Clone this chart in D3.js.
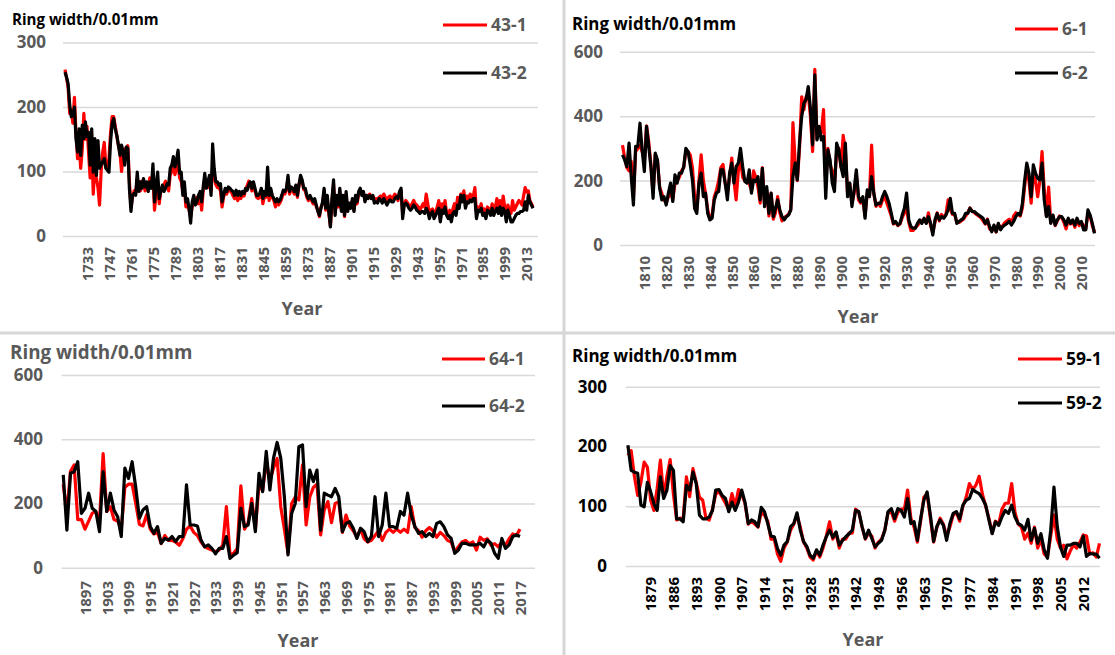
<!DOCTYPE html>
<html>
<head>
<meta charset="utf-8">
<script src="https://cdn.jsdelivr.net/npm/d3@7"></script>
<style>
  body { margin: 0; background: #fff; }
  svg { display: block; font-family: "Open Sans", Lato, sans-serif; }
</style>
</head>
<body>
<svg id="chart" width="1115" height="655"></svg>
<script>
// ---- data: ring width (0.01mm), one value per year ----
// sample 43, 1719-2017
const start43 = 1719;
const ring43_1 = [
  258,245,230,190,195,175,215,160,120,140,
  105,135,190,150,170,130,90,140,65,110,
  90,75,48,100,130,145,110,105,120,160,
  185,185,170,155,140,130,100,125,135,130,
  140,85,45,60,70,65,90,75,70,85,
  80,70,80,75,90,80,95,40,65,85,
  50,70,75,80,85,80,70,95,100,110,
  95,105,110,90,85,70,75,45,50,40,
  30,45,55,50,60,50,65,40,70,90,
  80,75,90,70,100,95,80,75,75,70,
  45,60,70,65,72,70,68,62,58,65,
  55,60,58,65,62,72,78,85,80,70,
  75,70,60,58,60,70,50,62,60,85,
  55,70,60,55,45,55,48,52,58,68,
  65,72,88,65,75,70,65,75,60,80,
  90,85,72,70,60,55,58,55,50,55,
  45,40,30,45,50,70,40,55,35,15,
  55,80,35,58,45,70,40,58,30,65,
  40,50,45,55,40,60,50,65,72,65,
  68,55,60,62,65,60,62,55,58,55,
  60,62,58,65,60,55,60,62,58,60,
  65,62,55,65,70,35,50,55,52,48,
  45,50,55,50,48,45,40,45,50,45,
  65,50,35,40,42,30,38,45,55,25,
  50,42,55,35,30,40,28,42,50,40,
  60,50,65,60,70,50,62,58,65,60,
  62,75,35,45,42,50,38,42,30,45,
  42,38,50,35,45,58,40,55,35,62,
  45,30,48,40,35,55,40,45,50,55,
  52,48,62,75,68,70,55,50,45
];
const ring43_2 = [
  254,246,236,203,185,187,200,151,130,166,
  125,172,151,177,154,161,110,166,99,151,
  94,148,105,110,115,120,105,102,99,146,
  174,182,166,156,141,125,141,130,110,138,
  136,74,38,63,66,63,99,69,84,74,
  89,76,84,69,84,74,112,53,79,99,
  58,69,79,69,74,81,79,105,110,123,
  107,118,133,97,99,63,84,53,58,43,
  20,53,63,48,53,63,69,53,76,97,
  74,84,94,63,143,105,84,84,79,81,
  53,63,74,69,76,74,71,69,63,71,
  63,69,63,69,66,74,71,79,84,74,
  84,74,63,63,66,74,58,69,63,107,
  63,74,63,58,53,58,53,56,63,71,
  69,74,94,69,76,74,69,79,63,79,
  94,87,74,74,63,58,63,58,53,58,
  48,38,32,43,53,74,43,63,38,14,
  58,87,32,63,48,74,38,63,32,69,
  38,51,43,58,38,63,53,69,74,63,
  69,53,63,58,63,58,63,51,53,51,
  58,56,51,58,53,48,53,56,53,53,
  58,61,58,69,74,27,48,51,48,43,
  40,43,48,45,40,38,35,38,38,35,
  43,38,27,35,38,27,32,38,43,22,
  40,35,45,32,27,32,22,35,38,32,
  48,43,63,53,63,43,53,51,56,53,
  58,58,27,40,38,43,32,35,27,40,
  38,32,43,32,38,43,35,45,32,43,
  38,22,40,32,22,22,27,32,35,35,
  38,38,40,53,40,63,53,48,43
];
const ticks43 = [1733,1747,1761,1775,1789,1803,1817,1831,1845,1859,1873,1887,1901,1915,1929,1943,1957,1971,1985,1999,2013];

// sample 6, 1800-2016
const start6 = 1800;
const ring6_1 = [
  310,270,240,230,260,150,290,300,310,290,
  260,370,320,250,160,280,260,180,160,140,
  130,150,170,140,190,200,210,230,240,290,
  290,280,240,150,110,200,280,200,160,110,
  80,90,150,170,200,240,250,190,160,210,
  270,200,140,230,270,210,200,200,190,170,
  230,210,180,130,240,130,170,90,160,80,
  100,150,100,75,85,90,95,110,380,260,
  200,300,460,420,460,470,400,290,545,330,
  360,350,420,180,300,250,230,190,290,300,
  240,340,290,160,190,130,160,220,140,130,
  140,90,160,150,310,160,120,130,120,140,
  150,130,110,90,65,70,60,65,85,100,
  110,70,45,45,55,60,70,75,80,70,
  100,60,40,70,100,75,95,85,95,140,
  110,95,95,70,70,75,80,90,100,115,
  105,100,95,90,85,75,65,80,50,45,
  55,40,65,50,60,70,75,80,65,90,
  100,95,90,115,180,240,200,130,220,200,
  150,200,290,170,90,180,70,90,60,75,
  90,85,70,50,80,65,75,55,80,60,
  70,60,50,100,90,60,40
];
const ring6_2 = [
  280,264,243,316,212,124,306,306,378,295,
  228,368,306,243,145,285,264,176,140,150,
  124,161,192,135,218,192,223,223,243,300,
  290,249,202,114,98,192,223,150,161,98,
  78,83,140,161,166,233,233,192,140,223,
  254,192,243,254,300,243,197,192,233,161,
  202,197,212,140,238,119,181,98,161,88,
  114,140,109,88,78,88,93,109,212,254,
  202,316,399,440,451,492,425,311,528,326,
  368,326,337,145,295,264,192,166,316,295,
  243,212,316,150,192,119,171,233,150,135,
  150,83,171,150,212,161,124,129,129,150,
  166,150,129,98,67,73,62,67,93,114,
  161,78,57,52,52,67,78,67,83,67,
  88,67,31,78,98,78,88,83,93,109,
  145,98,98,67,73,78,83,98,98,114,
  104,104,98,93,88,83,67,78,57,41,
  62,41,67,47,57,62,67,73,62,73,
  88,98,93,129,197,254,223,150,249,223,
  207,202,254,140,88,119,67,93,62,78,
  88,88,78,62,83,67,78,62,83,67,
  73,47,47,109,93,67,36
];
const ticks6 = [1810,1820,1830,1840,1850,1860,1870,1880,1890,1900,1910,1920,1930,1940,1950,1960,1970,1980,1990,2000,2010];

// sample 64, 1891-2017
const start64 = 1891;
const ring64_1 = [
  260,170,300,320,150,150,120,145,170,175,
  145,355,175,190,150,145,120,250,260,260,
  200,135,130,165,120,105,110,75,100,85,
  85,80,70,90,120,130,110,100,80,65,
  60,55,50,55,70,190,40,45,60,255,
  120,140,215,120,260,240,330,270,310,340,
  190,120,45,200,220,211,320,133,220,250,
  260,102,180,206,140,200,205,110,164,130,
  115,95,120,90,80,85,100,115,85,110,
  120,110,120,110,120,110,190,125,115,95,
  115,125,115,95,110,100,85,80,50,65,
  80,85,75,80,55,95,85,90,70,75,
  65,80,70,90,105,100,120
];
const ring64_2 = [
  289,117,294,299,330,169,185,232,185,175,
  112,299,175,232,180,159,97,310,278,330,
  250,154,180,190,128,107,128,76,91,86,
  97,81,97,97,258,133,133,130,86,65,
  71,60,43,60,60,97,29,39,47,185,
  128,133,200,112,294,237,362,242,341,390,
  341,221,40,169,200,377,382,190,304,268,
  304,117,232,226,221,247,221,112,138,143,
  123,91,123,112,81,97,221,97,133,232,
  128,128,123,175,164,232,164,128,107,112,
  97,107,97,138,143,128,102,91,45,55,
  76,76,71,71,71,76,65,86,76,45,
  29,91,60,71,97,102,97
];
const ticks64 = [1897,1903,1909,1915,1921,1927,1933,1939,1945,1951,1957,1963,1969,1975,1981,1987,1993,1999,2005,2011,2017];

// sample 59, 1872-2017
const start59 = 1872;
const ring59_1 = [
  185,193,150,118,140,174,165,110,93,130,
  177,116,150,178,120,77,80,79,149,116,
  163,140,115,110,80,77,95,120,125,115,
  105,95,121,100,128,120,105,70,75,70,
  65,90,85,75,45,45,20,8,30,40,
  60,70,85,65,40,30,15,10,25,15,
  30,50,74,45,55,30,45,45,55,55,
  95,90,65,45,55,50,30,40,45,60,
  90,90,75,90,95,95,127,80,65,40,
  75,115,120,80,40,65,80,70,50,65,
  85,90,75,100,115,138,128,135,150,120,
  100,80,55,75,70,95,105,105,138,90,
  70,65,45,55,38,65,30,45,20,15,
  50,85,45,30,35,12,25,35,30,40,
  52,50,20,22,15,38
];
const ring59_2 = [
  202,160,157,155,102,99,140,124,104,93,
  149,113,127,168,160,79,79,74,135,127,
  157,138,85,79,79,82,93,127,128,118,
  113,91,107,93,107,127,107,71,77,74,
  66,98,91,71,50,49,29,18,35,41,
  66,71,89,60,41,33,18,13,27,18,
  35,49,60,48,57,35,43,49,54,60,
  93,91,66,46,60,46,32,38,43,60,
  91,96,79,96,93,82,113,71,74,43,
  79,110,124,85,41,66,77,68,43,71,
  88,91,79,102,110,113,128,124,121,113,
  102,77,54,74,68,82,93,88,102,82,
  71,68,60,78,43,63,38,54,27,13,
  60,132,66,32,16,35,35,38,38,32,
  50,16,21,20,20,13
];
const ticks59 = [1879,1886,1893,1900,1907,1914,1921,1928,1935,1942,1949,1956,1963,1970,1977,1984,1991,1998,2005,2012];

const titleText = "Ring width/0.01mm";
const gray = "#595959";

// panel settings (positions of each of the four small charts)
const panels = [
  { s1: ring43_1, s2: ring43_2, start: start43, xTicks: ticks43, yTicks: [0,100,200,300],
    names: ["43-1","43-2"], grid: [63,538], xRange: [65,533], yRange: [236,42.5],
    yLabelX: 46, xLabelY: 247, title: [12,25,15.1,"#000"], legend: [443,487,25,73,gray],
    yearPos: [302,315], tickColor: gray },
  { s1: ring6_1, s2: ring6_2, start: start6, xTicks: ticks6, yTicks: [0,200,400,600],
    names: ["6-1","6-2"], grid: [620,1095], xRange: [622.5,1094.5], yRange: [245,51.7],
    yLabelX: 603, xLabelY: 256, title: [572,30,16.9,"#000"], legend: [1015,1058,29,73,gray],
    yearPos: [858,323], tickColor: gray },
  { s1: ring64_1, s2: ring64_2, start: start64, xTicks: ticks64, yTicks: [0,200,400,600],
    names: ["64-1","64-2"], grid: [61.7,535], xRange: [63.25,520], yRange: [567.7,375],
    yLabelX: 43, xLabelY: 581, title: [10,359,18.8,gray], legend: [442,485,359,406,gray],
    yearPos: [298,647], tickColor: gray },
  { s1: ring59_1, s2: ring59_2, start: start59, xTicks: ticks59, yTicks: [0,100,200,300],
    names: ["59-1","59-2"], grid: [625.7,1100], xRange: [627.9,1099.5], yRange: [566,386.7],
    yLabelX: 607, xLabelY: 577, title: [572,362,17,"#000"], legend: [1018,1062,359,403,"#000"],
    yearPos: [863,646], tickColor: "#000" }
];

const svg = d3.select("#chart");

// separators between the four charts
svg.append("line").attr("x1", 564).attr("x2", 564).attr("y1", 0).attr("y2", 655)
  .attr("stroke", "#d6d6d6").attr("stroke-width", 3);
svg.append("line").attr("x1", 0).attr("x2", 1115).attr("y1", 333).attr("y2", 333)
  .attr("stroke", "#d6d6d6").attr("stroke-width", 3);

panels.forEach(p => drawPanel(p));

function drawPanel(p) {
  const g = svg.append("g");
  const n = p.s1.length;
  const years = d3.range(p.start, p.start + n);
  const x = d3.scaleLinear().domain([p.start, p.start + n - 1]).range(p.xRange);
  const y = d3.scaleLinear().domain([0, d3.max(p.yTicks)]).range(p.yRange);

  // y axis + gridlines
  const gy = g.append("g").attr("transform", `translate(${p.grid[0]},0)`);
  gy.call(d3.axisLeft(y).tickValues(p.yTicks)
    .tickSize(-(p.grid[1] - p.grid[0]))
    .tickPadding(p.grid[0] - p.yLabelX));
  gy.select(".domain").remove();
  gy.selectAll(".tick line").attr("stroke", "#d9d9d9").attr("stroke-width", 1.5);
  gy.selectAll(".tick text")
    .attr("fill", p.tickColor)
    .style("font-size", "17px")
    .style("font-weight", "bold")
    .style("font-family", "'Open Sans', sans-serif");

  // x axis, labels turned 90 degrees
  const gx = g.append("g").attr("transform", `translate(0,${p.yRange[0]})`);
  gx.call(d3.axisBottom(x).tickValues(p.xTicks).tickSize(0).tickFormat(d3.format("d")));
  gx.select(".domain").remove();
  gx.selectAll(".tick text")
    .attr("transform", "rotate(-90)")
    .attr("x", -(p.xLabelY - p.yRange[0]))
    .attr("y", 0)
    .attr("dy", "0.35em")
    .style("text-anchor", "end")
    .attr("fill", p.tickColor)
    .style("font-size", "15px")
    .style("font-weight", "bold")
    .style("font-family", "'Open Sans', sans-serif");

  // the two series, red under black
  const line = d3.line()
    .x((d, i) => x(years[i]))
    .y(d => y(d));
  g.append("path").datum(p.s1).attr("d", line)
    .attr("fill", "none").attr("stroke", "#ff0000")
    .attr("stroke-width", 3.2).attr("stroke-linejoin", "round");
  g.append("path").datum(p.s2).attr("d", line)
    .attr("fill", "none").attr("stroke", "#000000")
    .attr("stroke-width", 3.2).attr("stroke-linejoin", "round");

  // title
  g.append("text")
    .attr("x", p.title[0]).attr("y", p.title[1])
    .attr("fill", p.title[3])
    .style("font-size", p.title[2] + "px")
    .style("font-weight", "bold")
    .text(titleText);

  // legend
  const lg = p.legend;
  [[p.names[0], "#ff0000", lg[2]], [p.names[1], "#000000", lg[3]]].forEach(item => {
    g.append("line")
      .attr("x1", lg[0]).attr("x2", lg[1])
      .attr("y1", item[2]).attr("y2", item[2])
      .attr("stroke", item[1]).attr("stroke-width", 3);
    g.append("text")
      .attr("x", lg[1] + 4).attr("y", item[2])
      .attr("dy", "0.35em")
      .attr("fill", lg[4])
      .style("font-size", "17.5px")
      .style("font-weight", "bold")
      .text(item[0]);
  });

  // x axis title
  g.append("text")
    .attr("x", p.yearPos[0]).attr("y", p.yearPos[1])
    .attr("text-anchor", "middle")
    .attr("fill", gray)
    .style("font-size", "18px")
    .style("font-weight", "bold")
    .text("Year");
}
</script>
</body>
</html>
